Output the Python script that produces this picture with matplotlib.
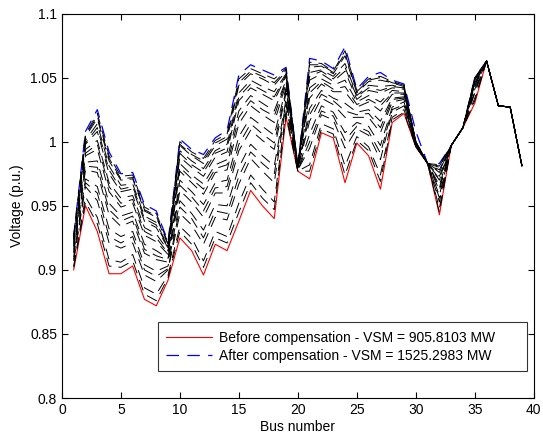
import matplotlib
matplotlib.use("Agg")
import matplotlib.pyplot as plt

plt.rcParams["font.family"] = ["Liberation Sans", "DejaVu Sans"]
plt.rcParams["lines.scale_dashes"] = False

# === Data ===
bus = list(range(1, 40))

v_before = [0.900, 0.950, 0.930, 0.897, 0.897, 0.903, 0.877, 0.872, 0.892, 0.925,
            0.915, 0.896, 0.920, 0.915, 0.938, 0.962, 0.950, 0.940, 1.019, 0.977,
            0.971, 1.007, 1.003, 0.968, 0.999, 0.989, 0.963, 1.015, 1.022, 0.996,
            0.983, 0.943, 0.997, 1.011, 1.030, 1.063, 1.028, 1.027, 0.981]

v_after = [0.927, 1.008, 1.025, 0.992, 0.975, 0.976, 0.951, 0.946, 0.922, 1.002,
           0.994, 0.990, 1.003, 1.009, 1.052, 1.060, 1.056, 1.052, 1.058, 0.981,
           1.065, 1.063, 1.057, 1.074, 1.041, 1.051, 1.054, 1.048, 1.045, 1.008,
           0.983, 0.983, 0.997, 1.011, 1.050, 1.063, 1.028, 1.027, 0.981]

# intermediate compensation steps (black dashed curves)
v_steps = [
    [0.902, 0.953, 0.936, 0.903, 0.902, 0.907, 0.881, 0.876, 0.894, 0.930,
     0.920, 0.902, 0.925, 0.921, 0.945, 0.968, 0.956, 0.947, 1.021, 0.977,
     0.977, 1.010, 1.006, 0.974, 1.001, 0.993, 0.969, 1.017, 1.023, 0.996,
     0.983, 0.945, 0.997, 1.011, 1.032, 1.063, 1.028, 1.027, 0.981],
    [0.903, 0.957, 0.941, 0.908, 0.906, 0.912, 0.886, 0.881, 0.896, 0.934,
     0.925, 0.907, 0.930, 0.926, 0.952, 0.974, 0.963, 0.953, 1.024, 0.977,
     0.982, 1.014, 1.010, 0.981, 1.004, 0.996, 0.974, 1.019, 1.025, 0.996,
     0.983, 0.948, 0.997, 1.011, 1.034, 1.063, 1.028, 1.027, 0.981],
    [0.907, 0.965, 0.954, 0.921, 0.917, 0.921, 0.896, 0.891, 0.900, 0.944,
     0.935, 0.920, 0.941, 0.939, 0.967, 0.987, 0.977, 0.968, 1.029, 0.978,
     0.995, 1.021, 1.017, 0.995, 1.010, 1.005, 0.986, 1.023, 1.028, 0.997,
     0.983, 0.953, 0.997, 1.011, 1.038, 1.063, 1.028, 1.027, 0.981],
    [0.908, 0.968, 0.960, 0.926, 0.921, 0.926, 0.900, 0.895, 0.901, 0.949,
     0.940, 0.925, 0.946, 0.944, 0.973, 0.992, 0.983, 0.975, 1.031, 0.978,
     1.000, 1.024, 1.020, 1.001, 1.012, 1.008, 0.991, 1.025, 1.029, 0.997,
     0.983, 0.956, 0.997, 1.011, 1.039, 1.063, 1.028, 1.027, 0.981],
    [0.910, 0.971, 0.965, 0.932, 0.926, 0.930, 0.904, 0.899, 0.903, 0.954,
     0.944, 0.931, 0.951, 0.950, 0.980, 0.998, 0.989, 0.981, 1.033, 0.978,
     1.006, 1.028, 1.023, 1.007, 1.015, 1.012, 0.997, 1.027, 1.031, 0.997,
     0.983, 0.958, 0.997, 1.011, 1.041, 1.063, 1.028, 1.027, 0.981],
    [0.913, 0.978, 0.976, 0.943, 0.934, 0.938, 0.913, 0.908, 0.906, 0.962,
     0.953, 0.941, 0.960, 0.960, 0.993, 1.009, 1.001, 0.994, 1.038, 0.979,
     1.016, 1.034, 1.029, 1.019, 1.019, 1.019, 1.007, 1.031, 1.033, 0.998,
     0.983, 0.962, 0.997, 1.011, 1.043, 1.063, 1.028, 1.027, 0.981],
    [0.914, 0.981, 0.980, 0.947, 0.938, 0.942, 0.916, 0.911, 0.908, 0.966,
     0.957, 0.946, 0.964, 0.965, 0.998, 1.014, 1.006, 0.999, 1.040, 0.979,
     1.021, 1.037, 1.032, 1.024, 1.021, 1.022, 1.011, 1.033, 1.034, 0.998,
     0.983, 0.964, 0.997, 1.011, 1.044, 1.063, 1.028, 1.027, 0.981],
    [0.916, 0.984, 0.985, 0.952, 0.942, 0.945, 0.920, 0.915, 0.909, 0.970,
     0.961, 0.951, 0.968, 0.970, 1.004, 1.019, 1.012, 1.005, 1.042, 0.979,
     1.026, 1.040, 1.034, 1.030, 1.023, 1.025, 1.016, 1.034, 1.035, 0.998,
     0.983, 0.966, 0.997, 1.011, 1.045, 1.063, 1.028, 1.027, 0.981],
    [0.918, 0.989, 0.994, 0.961, 0.949, 0.952, 0.927, 0.922, 0.912, 0.977,
     0.968, 0.959, 0.976, 0.978, 1.014, 1.028, 1.021, 1.015, 1.045, 0.980,
     1.034, 1.045, 1.039, 1.039, 1.027, 1.031, 1.024, 1.037, 1.037, 0.999,
     0.983, 0.970, 0.997, 1.011, 1.046, 1.063, 1.028, 1.027, 0.981],
    [0.919, 0.991, 0.998, 0.965, 0.952, 0.955, 0.930, 0.925, 0.913, 0.980,
     0.971, 0.963, 0.979, 0.982, 1.019, 1.032, 1.025, 1.020, 1.047, 0.980,
     1.038, 1.047, 1.041, 1.043, 1.029, 1.033, 1.028, 1.038, 1.038, 0.999,
     0.983, 0.971, 0.997, 1.011, 1.046, 1.063, 1.028, 1.027, 0.981],
    [0.920, 0.994, 1.001, 0.968, 0.956, 0.958, 0.933, 0.928, 0.915, 0.983,
     0.974, 0.967, 0.982, 0.986, 1.024, 1.036, 1.030, 1.024, 1.048, 0.980,
     1.042, 1.049, 1.044, 1.048, 1.031, 1.036, 1.031, 1.040, 1.039, 0.999,
     0.983, 0.973, 0.997, 1.011, 1.047, 1.063, 1.028, 1.027, 0.981],
    [0.922, 0.998, 1.008, 0.975, 0.961, 0.963, 0.938, 0.933, 0.917, 0.988,
     0.980, 0.973, 0.988, 0.992, 1.032, 1.042, 1.037, 1.032, 1.051, 0.980,
     1.048, 1.053, 1.047, 1.055, 1.033, 1.040, 1.038, 1.042, 1.041, 1.000,
     0.983, 0.976, 0.997, 1.011, 1.048, 1.063, 1.028, 1.027, 0.981],
    [0.923, 0.999, 1.011, 0.978, 0.963, 0.965, 0.940, 0.935, 0.918, 0.991,
     0.982, 0.976, 0.991, 0.995, 1.035, 1.045, 1.040, 1.035, 1.052, 0.981,
     1.051, 1.055, 1.049, 1.058, 1.035, 1.042, 1.040, 1.043, 1.042, 1.000,
     0.983, 0.977, 0.997, 1.011, 1.048, 1.063, 1.028, 1.027, 0.981],
    [0.924, 1.001, 1.014, 0.981, 0.966, 0.967, 0.942, 0.937, 0.918, 0.993,
     0.985, 0.979, 0.993, 0.998, 1.038, 1.048, 1.043, 1.039, 1.053, 0.981,
     1.054, 1.056, 1.051, 1.061, 1.036, 1.044, 1.043, 1.044, 1.042, 1.000,
     0.983, 0.978, 0.997, 1.011, 1.049, 1.063, 1.028, 1.027, 0.981],
    [0.925, 1.004, 1.018, 0.985, 0.970, 0.971, 0.946, 0.941, 0.920, 0.997,
     0.989, 0.983, 0.997, 1.002, 1.044, 1.053, 1.049, 1.044, 1.055, 0.981,
     1.058, 1.059, 1.053, 1.067, 1.038, 1.047, 1.048, 1.046, 1.043, 1.000,
     0.983, 0.980, 0.997, 1.011, 1.049, 1.063, 1.028, 1.027, 0.981],
    [0.926, 1.005, 1.020, 0.987, 0.971, 0.972, 0.947, 0.942, 0.920, 0.998,
     0.990, 0.985, 0.999, 1.004, 1.046, 1.055, 1.051, 1.046, 1.056, 0.981,
     1.060, 1.060, 1.054, 1.069, 1.039, 1.048, 1.050, 1.046, 1.044, 1.000,
     0.983, 0.981, 0.997, 1.011, 1.049, 1.063, 1.028, 1.027, 0.981],
    [0.926, 1.006, 1.022, 0.989, 0.973, 0.974, 0.949, 0.944, 0.921, 1.000,
     0.992, 0.987, 1.001, 1.006, 1.049, 1.057, 1.053, 1.049, 1.057, 0.981,
     1.062, 1.061, 1.055, 1.071, 1.040, 1.049, 1.051, 1.047, 1.044, 1.000,
     0.983, 0.982, 0.997, 1.011, 1.050, 1.063, 1.028, 1.027, 0.981],
]

labels = ["Before compensation - VSM = 905.8103 MW",
          "After compensation - VSM = 1525.2983 MW"]

# === Plot ===
fig = plt.figure(figsize=(5.43, 4.36), dpi=100)
ax = fig.add_axes([0.114, 0.087, 0.869, 0.882])

ax.plot(bus, v_before, color="red", lw=0.8, label=labels[0])
ax.plot(bus, v_after, color="blue", lw=0.9, dashes=(9, 6), label=labels[1])
for v in v_steps:
    ax.plot(bus, v, color="black", lw=0.7, dashes=(8, 5))

ax.set_xlim(0, 40)
ax.set_ylim(0.8, 1.1)
ax.set_xticks(range(0, 41, 5))
ax.set_yticks([0.8, 0.85, 0.9, 0.95, 1.0, 1.05, 1.1])
ax.set_yticklabels(["0.8", "0.85", "0.9", "0.95", "1", "1.05", "1.1"])
ax.tick_params(direction="in", top=True, right=True, labelsize=10, length=4)
ax.set_xlabel("Bus number", fontsize=10, labelpad=2)
ax.set_ylabel("Voltage (p.u.)", fontsize=10, labelpad=4)

leg = ax.legend(loc="lower left", bbox_to_anchor=(0.203, 0.07, 0.782, 0.122),
                mode="expand", fontsize=10, frameon=True, fancybox=False,
                edgecolor="black", handlelength=3.3, handletextpad=0.5,
                borderpad=0.6, labelspacing=0.3, borderaxespad=0)
leg.get_frame().set_linewidth(0.8)

plt.savefig("out.png", dpi=100, facecolor="white")
plt.close()
